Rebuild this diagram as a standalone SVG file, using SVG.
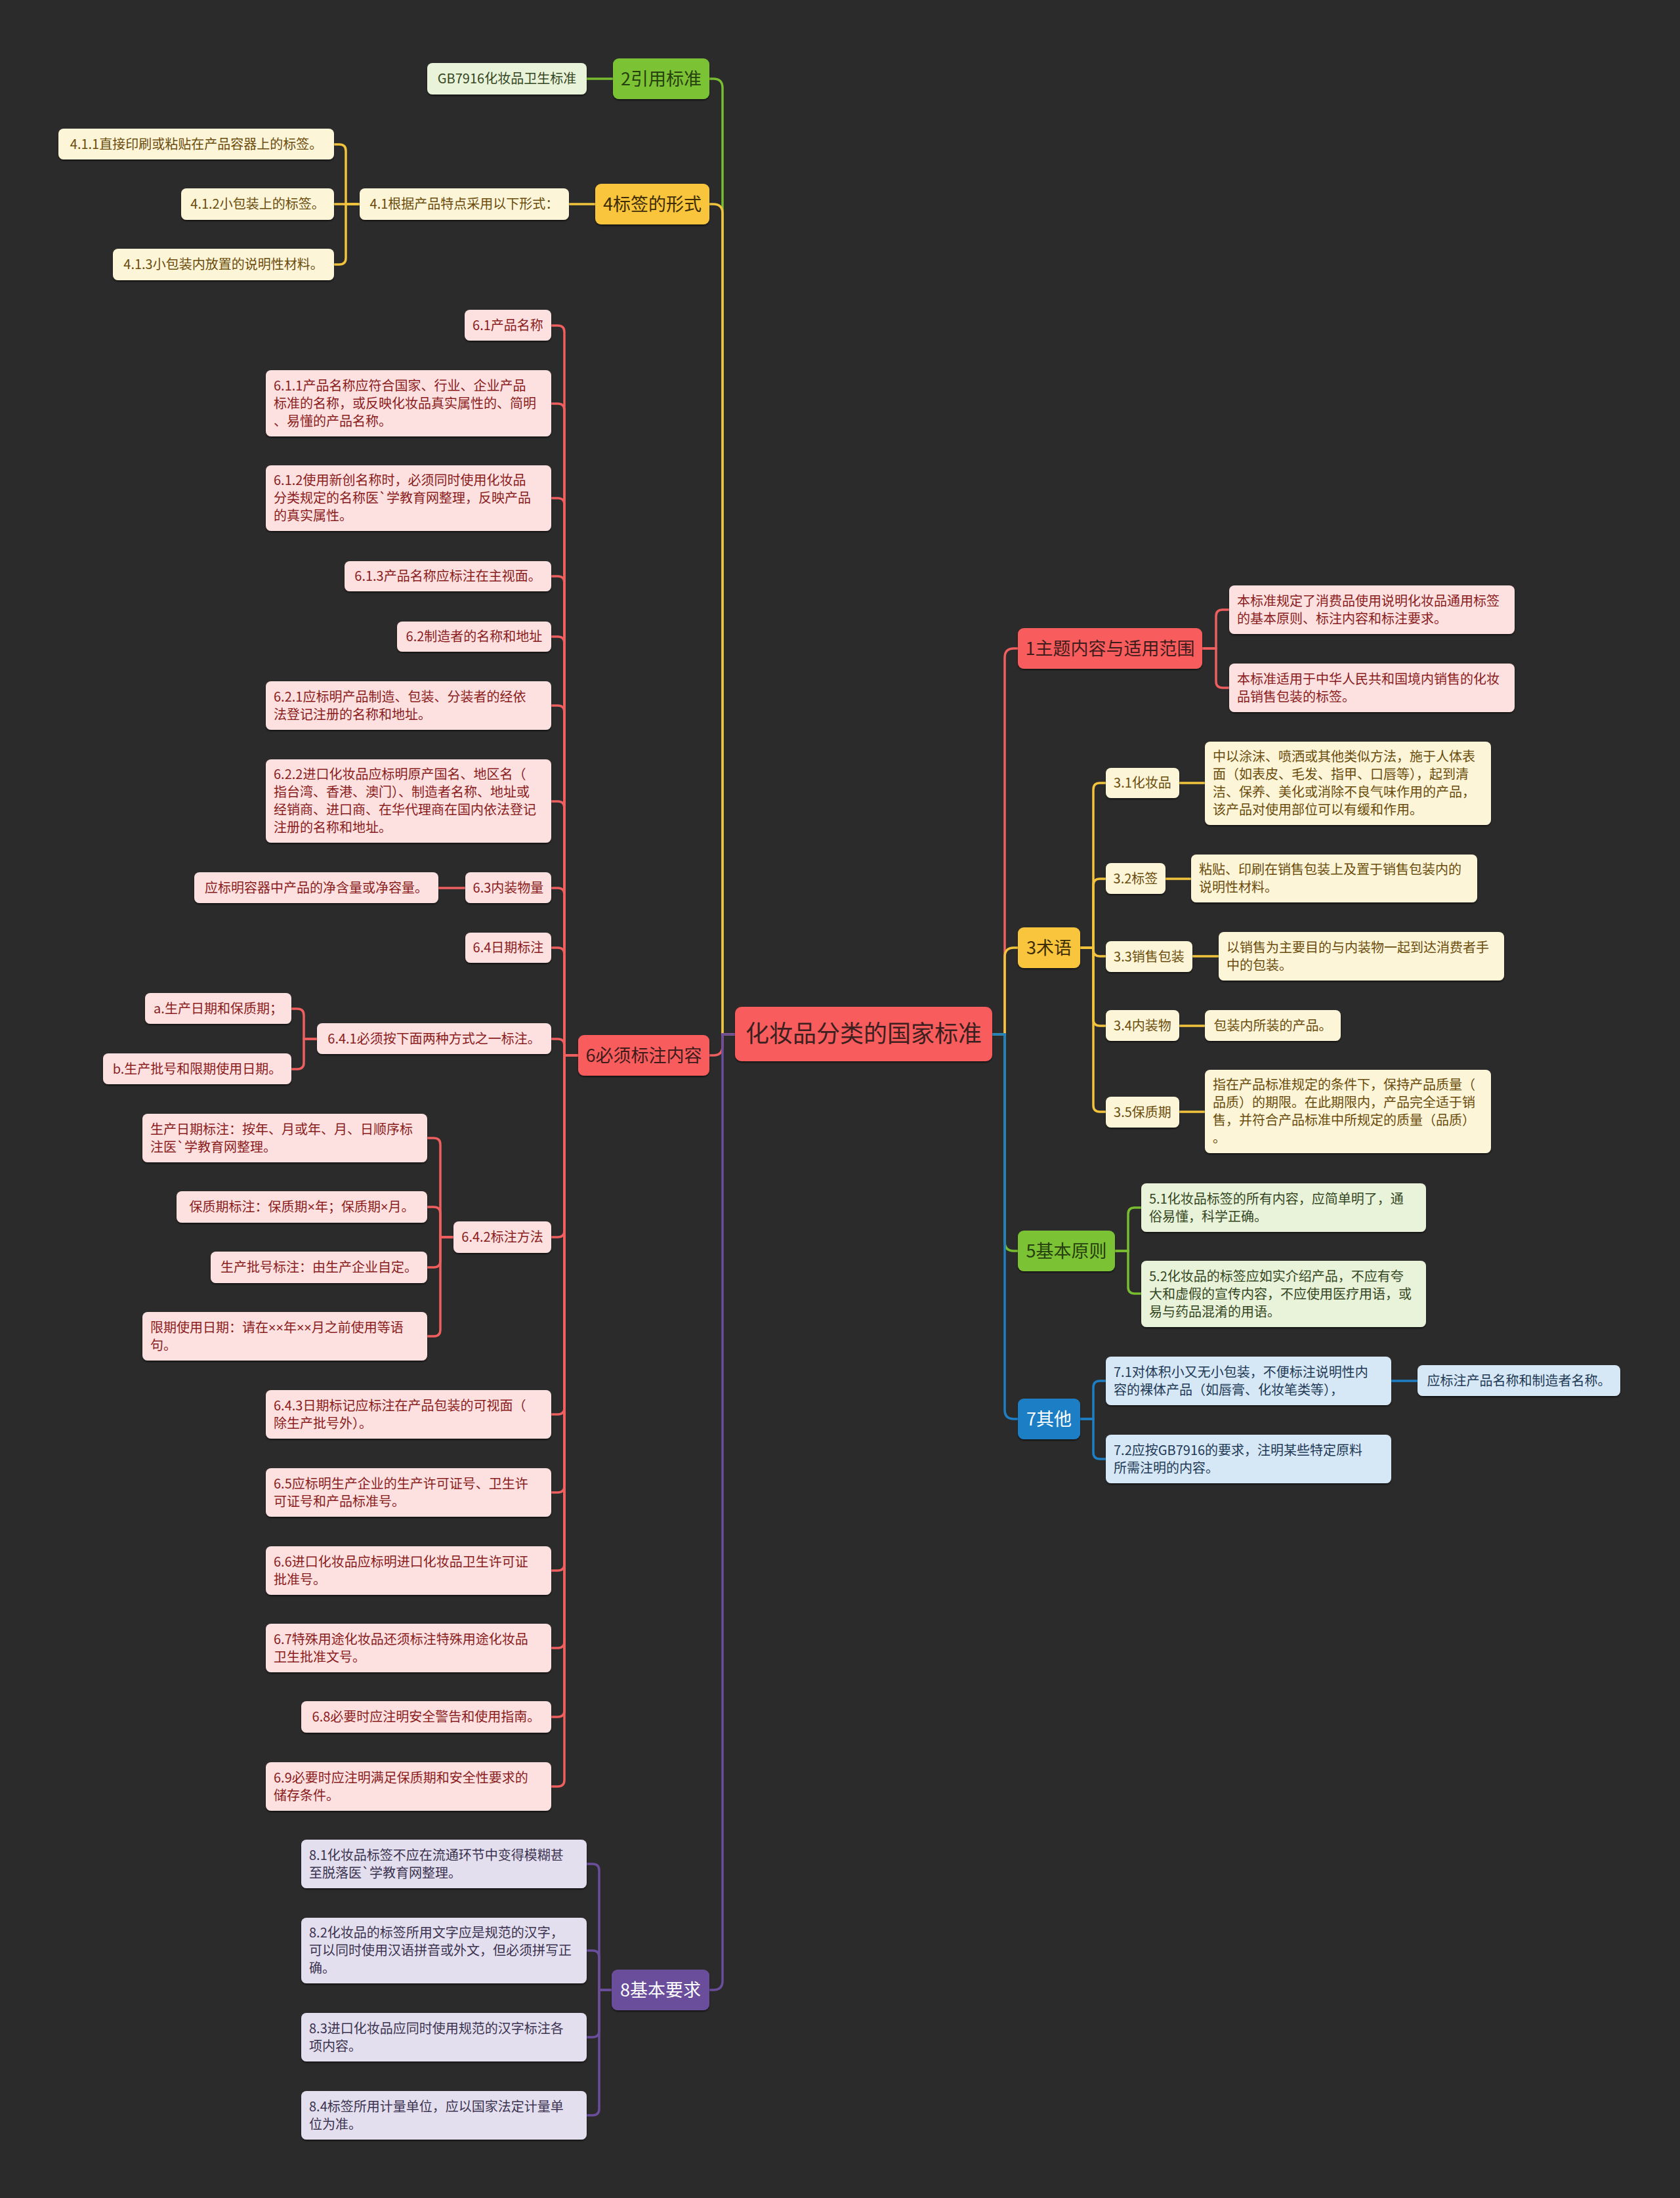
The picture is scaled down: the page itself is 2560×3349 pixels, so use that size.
<svg xmlns="http://www.w3.org/2000/svg" width="2560" height="3349" viewBox="0 0 2560 3349">
<style>
text{font-family:"Noto Sans CJK SC","Noto Sans",sans-serif;font-size:20px}
.x{font-family:"Noto Sans","Liberation Sans",sans-serif}
.c{text-anchor:middle}
.l1{font-size:27px}
.root{font-size:36px;fill:#3c2020}
rect{filter:url(#sh)}
.Rm{fill:#f85b5b}.Rs{fill:#fde1e1}.Rt{fill:#8a1c1c}.Rd{fill:#3e1c1c}
.Ym{fill:#f8c53c}.Ys{fill:#fdf5d8}.Yt{fill:#6a4c0c}.Yd{fill:#3e2d06}
.Gm{fill:#7cc235}.Gs{fill:#e9f3da}.Gt{fill:#34461f}.Gd{fill:#26400e}
.Bm{fill:#1e7fc5}.Bs{fill:#d6e7f5}.Bt{fill:#1f3a55}.Bd{fill:#ffffff}
.Pm{fill:#6a4d9b}.Ps{fill:#e3dfee}.Pt{fill:#3b3350}.Pd{fill:#ffffff}
#connectors path{fill:none;stroke-width:3.5;stroke-linecap:round}
.lr{stroke:#ef5f5f}.ly{stroke:#f2c33c}.lg{stroke:#78bd30}.lb{stroke:#1e7fc5}.lp{stroke:#6a4d9b}
</style>
<defs>
<filter id="sh" x="-5%" y="-10%" width="110%" height="130%"><feDropShadow dx="0" dy="2" stdDeviation="1" flood-color="#000" flood-opacity="0.55"/></filter>
</defs>
<rect x="0" y="0" width="2560" height="3349" fill="#2b2b2b" style="filter:none"/>
<g id="connectors">
<path class="lg" d="M1120,1576 H1101 V134 Q1101,120 1087,120 H1081"/>
<path class="ly" d="M1120,1576 H1101 V325 Q1101,311 1087,311 H1081"/>
<path class="lr" d="M1120,1576 H1101 V1594 Q1101,1608 1087,1608 H1081"/>
<path class="lp" d="M1120,1576 H1101 V3018 Q1101,3032 1087,3032 H1081"/>
<path class="lr" d="M1512,1576 H1531 V1002 Q1531,988 1545,988 H1551"/>
<path class="ly" d="M1512,1576 H1531 V1458 Q1531,1444 1545,1444 H1551"/>
<path class="lg" d="M1512,1576 H1531 V1892 Q1531,1906 1545,1906 H1551"/>
<path class="lb" d="M1512,1576 H1531 V2148 Q1531,2162 1545,2162 H1551"/>
<path class="lg" d="M934,120 H894"/>
<path class="ly" d="M907,311 H867"/>
<path class="ly" d="M548,311 H527 V230 Q527,220 517,220 H509"/>
<path class="ly" d="M548,311 H509"/>
<path class="ly" d="M548,311 H527 V393 Q527,403 517,403 H509"/>
<path class="lr" d="M881,1608 H860 V506 Q860,496 850,496 H840"/>
<path class="lr" d="M881,1608 H860 V625 Q860,615 850,615 H840"/>
<path class="lr" d="M881,1608 H860 V769 Q860,759 850,759 H840"/>
<path class="lr" d="M881,1608 H860 V888 Q860,878 850,878 H840"/>
<path class="lr" d="M881,1608 H860 V980 Q860,970 850,970 H840"/>
<path class="lr" d="M881,1608 H860 V1085 Q860,1075 850,1075 H840"/>
<path class="lr" d="M881,1608 H860 V1231 Q860,1221 850,1221 H840"/>
<path class="lr" d="M881,1608 H860 V1363 Q860,1353 850,1353 H840"/>
<path class="lr" d="M881,1608 H860 V1454 Q860,1444 850,1444 H840"/>
<path class="lr" d="M881,1608 H860 V1593 Q860,1583 850,1583 H840"/>
<path class="lr" d="M881,1608 H860 V1875 Q860,1885 850,1885 H840"/>
<path class="lr" d="M881,1608 H860 V2145 Q860,2155 850,2155 H840"/>
<path class="lr" d="M881,1608 H860 V2264 Q860,2274 850,2274 H840"/>
<path class="lr" d="M881,1608 H860 V2383 Q860,2393 850,2393 H840"/>
<path class="lr" d="M881,1608 H860 V2501 Q860,2511 850,2511 H840"/>
<path class="lr" d="M881,1608 H860 V2606 Q860,2616 850,2616 H840"/>
<path class="lr" d="M881,1608 H860 V2712 Q860,2722 850,2722 H840"/>
<path class="lr" d="M709,1353 H668"/>
<path class="lr" d="M483,1583 H463 V1547 Q463,1537 453,1537 H444"/>
<path class="lr" d="M483,1583 H463 V1619 Q463,1629 453,1629 H444"/>
<path class="lr" d="M691,1885 H671 V1744 Q671,1734 661,1734 H651"/>
<path class="lr" d="M691,1885 H671 V1849 Q671,1839 661,1839 H651"/>
<path class="lr" d="M691,1885 H671 V1921 Q671,1931 661,1931 H651"/>
<path class="lr" d="M691,1885 H671 V2026 Q671,2036 661,2036 H651"/>
<path class="lp" d="M932,3032 H913 V2850 Q913,2840 903,2840 H894"/>
<path class="lp" d="M932,3032 H913 V2982 Q913,2972 903,2972 H894"/>
<path class="lp" d="M932,3032 H913 V3094 Q913,3104 903,3104 H894"/>
<path class="lp" d="M932,3032 H913 V3213 Q913,3223 903,3223 H894"/>
<path class="lr" d="M1832,988 H1853 V939 Q1853,929 1863,929 H1873"/>
<path class="lr" d="M1832,988 H1853 V1038 Q1853,1048 1863,1048 H1873"/>
<path class="ly" d="M1646,1444 H1666 V1203 Q1666,1193 1676,1193 H1685"/>
<path class="ly" d="M1646,1444 H1666 V1349 Q1666,1339 1676,1339 H1685"/>
<path class="ly" d="M1646,1444 H1666 V1447 Q1666,1457 1676,1457 H1685"/>
<path class="ly" d="M1646,1444 H1666 V1553 Q1666,1563 1676,1563 H1685"/>
<path class="ly" d="M1646,1444 H1666 V1684 Q1666,1694 1676,1694 H1685"/>
<path class="ly" d="M1797,1193 H1836"/>
<path class="ly" d="M1776,1339 H1815"/>
<path class="ly" d="M1817,1457 H1857"/>
<path class="ly" d="M1797,1563 H1836"/>
<path class="ly" d="M1797,1694 H1836"/>
<path class="lg" d="M1699,1906 H1719 V1850 Q1719,1840 1729,1840 H1739"/>
<path class="lg" d="M1699,1906 H1719 V1961 Q1719,1971 1729,1971 H1739"/>
<path class="lb" d="M1646,2162 H1666 V2114 Q1666,2104 1676,2104 H1685"/>
<path class="lb" d="M1646,2162 H1666 V2213 Q1666,2223 1676,2223 H1685"/>
<path class="lb" d="M2120,2104 H2160"/>
</g>

<g id="root"><rect class="Rm" x="1120" y="1534" width="392" height="83" rx="10"/><text class="root c" x="1316" y="1588">化妆品分类的国家标准</text></g>

<g id="n2"><rect class="Gm" x="934" y="89" width="147" height="62" rx="9"/><text class="l1 c Gd" x="1007.5" y="129.5">2引用标准</text></g>
<g id="n2-1"><rect class="Gs" x="651" y="96" width="243" height="48" rx="8"/><text class="c Gt" x="772.5" y="127">GB7916化妆品卫生标准</text></g>

<g id="n4"><rect class="Ym" x="907" y="280" width="174" height="62" rx="9"/><text class="l1 c Yd" x="994" y="320.5">4标签的形式</text></g>
<g id="n4-1"><rect class="Ys" x="548" y="287" width="319" height="48" rx="8"/><text class="c Yt" x="707.5" y="318">4.1根据产品特点采用以下形式：</text></g>
<g id="n4-1-1"><rect class="Ys" x="89" y="196" width="420" height="47" rx="8"/><text class="c Yt" x="299" y="226.5">4.1.1直接印刷或粘贴在产品容器上的标签。</text></g>
<g id="n4-1-2"><rect class="Ys" x="276" y="287" width="233" height="48" rx="8"/><text class="c Yt" x="392.5" y="318">4.1.2小包装上的标签。</text></g>
<g id="n4-1-3"><rect class="Ys" x="172" y="379" width="337" height="48" rx="8"/><text class="c Yt" x="340.5" y="410">4.1.3小包装内放置的说明性材料。</text></g>

<g id="n6"><rect class="Rm" x="881" y="1577" width="200" height="62" rx="9"/><text class="l1 c Rd" x="981" y="1617.5">6必须标注内容</text></g>
<g id="n6-1"><rect class="Rs" x="708" y="472" width="132" height="47" rx="8"/><text class="c Rt" x="774" y="502.5">6.1产品名称</text></g>
<g id="n6-1-1"><rect class="Rs" x="405" y="564" width="435" height="101" rx="8"/><text class="Rt" x="417"><tspan x="417" y="594.5">6.1.1产品名称应符合国家、行业、企业产品</tspan><tspan x="417" y="621.5">标准的名称，或反映化妆品真实属性的、简明</tspan><tspan x="417" y="648.5">、易懂的产品名称。</tspan></text></g>
<g id="n6-1-2"><rect class="Rs" x="405" y="709" width="435" height="100" rx="8"/><text class="Rt" x="417"><tspan x="417" y="739">6.1.2使用新创名称时，必须同时使用化妆品</tspan><tspan x="417" y="766">分类规定的名称医`学教育网整理，反映产品</tspan><tspan x="417" y="793">的真实属性。</tspan></text></g>
<g id="n6-1-3"><rect class="Rs" x="525" y="855" width="315" height="46" rx="8"/><text class="c Rt" x="682.5" y="885">6.1.3产品名称应标注在主视面。</text></g>
<g id="n6-2"><rect class="Rs" x="605" y="947" width="235" height="46" rx="8"/><text class="c Rt" x="722.5" y="977">6.2制造者的名称和地址</text></g>
<g id="n6-2-1"><rect class="Rs" x="405" y="1038" width="435" height="74" rx="8"/><text class="Rt" x="417"><tspan x="417" y="1068.5">6.2.1应标明产品制造、包装、分装者的经依</tspan><tspan x="417" y="1095.5">法登记注册的名称和地址。</tspan></text></g>
<g id="n6-2-2"><rect class="Rs" x="405" y="1157" width="435" height="127" rx="8"/><text class="Rt" x="417"><tspan x="417" y="1187">6.2.2进口化妆品应标明原产国名、地区名（</tspan><tspan x="417" y="1214">指台湾、香港、澳门）、制造者名称、地址或</tspan><tspan x="417" y="1241">经销商、进口商、在华代理商在国内依法登记</tspan><tspan x="417" y="1268">注册的名称和地址。</tspan></text></g>
<g id="n6-3"><rect class="Rs" x="709" y="1329" width="131" height="47" rx="8"/><text class="c Rt" x="774.5" y="1359.5">6.3内装物量</text></g>
<g id="n6-3-1"><rect class="Rs" x="296" y="1329" width="372" height="47" rx="8"/><text class="c Rt" x="482" y="1359.5">应标明容器中产品的净含量或净容量。</text></g>
<g id="n6-4"><rect class="Rs" x="709" y="1421" width="131" height="46" rx="8"/><text class="c Rt" x="774.5" y="1451">6.4日期标注</text></g>
<g id="n6-4-1"><rect class="Rs" x="483" y="1559" width="357" height="47" rx="8"/><text class="c Rt" x="661.5" y="1589.5">6.4.1必须按下面两种方式之一标注。</text></g>
<g id="n6-4-1a"><rect class="Rs" x="221" y="1513" width="223" height="47" rx="8"/><text class="c Rt" x="332.5" y="1543.5">a.生产日期和保质期；</text></g>
<g id="n6-4-1b"><rect class="Rs" x="157" y="1605" width="287" height="47" rx="8"/><text class="c Rt" x="300.5" y="1635.5">b.生产批号和限期使用日期。</text></g>
<g id="n6-4-2"><rect class="Rs" x="691" y="1861" width="149" height="48" rx="8"/><text class="c Rt" x="765.5" y="1892">6.4.2标注方法</text></g>
<g id="n6-4-2a"><rect class="Rs" x="217" y="1697" width="434" height="74" rx="8"/><text class="Rt" x="229"><tspan x="229" y="1727.5">生产日期标注：按年、月或年、月、日顺序标</tspan><tspan x="229" y="1754.5">注医`学教育网整理。</tspan></text></g>
<g id="n6-4-2b"><rect class="Rs" x="269" y="1815" width="382" height="48" rx="8"/><text class="c Rt" x="460" y="1846">保质期标注：保质期<tspan class="x">×</tspan>年；保质期<tspan class="x">×</tspan>月。</text></g>
<g id="n6-4-2c"><rect class="Rs" x="321" y="1907" width="330" height="48" rx="8"/><text class="c Rt" x="486" y="1938">生产批号标注：由生产企业自定。</text></g>
<g id="n6-4-2d"><rect class="Rs" x="217" y="1999" width="434" height="74" rx="8"/><text class="Rt" x="229"><tspan x="229" y="2029.5">限期使用日期：请在<tspan class="x">××</tspan>年<tspan class="x">××</tspan>月之前使用等语</tspan><tspan x="229" y="2056.5">句。</tspan></text></g>
<g id="n6-4-3"><rect class="Rs" x="405" y="2118" width="435" height="74" rx="8"/><text class="Rt" x="417"><tspan x="417" y="2148.5">6.4.3日期标记应标注在产品包装的可视面（</tspan><tspan x="417" y="2175.5">除生产批号外）。</tspan></text></g>
<g id="n6-5"><rect class="Rs" x="405" y="2237" width="435" height="74" rx="8"/><text class="Rt" x="417"><tspan x="417" y="2267.5">6.5应标明生产企业的生产许可证号、卫生许</tspan><tspan x="417" y="2294.5">可证号和产品标准号。</tspan></text></g>
<g id="n6-6"><rect class="Rs" x="405" y="2356" width="435" height="74" rx="8"/><text class="Rt" x="417"><tspan x="417" y="2386.5">6.6进口化妆品应标明进口化妆品卫生许可证</tspan><tspan x="417" y="2413.5">批准号。</tspan></text></g>
<g id="n6-7"><rect class="Rs" x="405" y="2474" width="435" height="74" rx="8"/><text class="Rt" x="417"><tspan x="417" y="2504.5">6.7特殊用途化妆品还须标注特殊用途化妆品</tspan><tspan x="417" y="2531.5">卫生批准文号。</tspan></text></g>
<g id="n6-8"><rect class="Rs" x="459" y="2592" width="381" height="48" rx="8"/><text class="c Rt" x="649.5" y="2623">6.8必要时应注明安全警告和使用指南。</text></g>
<g id="n6-9"><rect class="Rs" x="405" y="2685" width="435" height="74" rx="8"/><text class="Rt" x="417"><tspan x="417" y="2715.5">6.9必要时应注明满足保质期和安全性要求的</tspan><tspan x="417" y="2742.5">储存条件。</tspan></text></g>

<g id="n8"><rect class="Pm" x="932" y="3001" width="149" height="62" rx="9"/><text class="l1 c Pd" x="1006.5" y="3041.5">8基本要求</text></g>
<g id="n8-1"><rect class="Ps" x="459" y="2803" width="435" height="74" rx="8"/><text class="Pt" x="471"><tspan x="471" y="2833.5">8.1化妆品标签不应在流通环节中变得模糊甚</tspan><tspan x="471" y="2860.5">至脱落医`学教育网整理。</tspan></text></g>
<g id="n8-2"><rect class="Ps" x="459" y="2922" width="435" height="100" rx="8"/><text class="Pt" x="471"><tspan x="471" y="2952">8.2化妆品的标签所用文字应是规范的汉字，</tspan><tspan x="471" y="2979">可以同时使用汉语拼音或外文，但必须拼写正</tspan><tspan x="471" y="3006">确。</tspan></text></g>
<g id="n8-3"><rect class="Ps" x="459" y="3067" width="435" height="74" rx="8"/><text class="Pt" x="471"><tspan x="471" y="3097.5">8.3进口化妆品应同时使用规范的汉字标注各</tspan><tspan x="471" y="3124.5">项内容。</tspan></text></g>
<g id="n8-4"><rect class="Ps" x="459" y="3186" width="435" height="74" rx="8"/><text class="Pt" x="471"><tspan x="471" y="3216.5">8.4标签所用计量单位，应以国家法定计量单</tspan><tspan x="471" y="3243.5">位为准。</tspan></text></g>

<g id="n1"><rect class="Rm" x="1551" y="957" width="281" height="62" rx="9"/><text class="l1 c Rd" x="1691.5" y="997.5">1主题内容与适用范围</text></g>
<g id="n1-1"><rect class="Rs" x="1873" y="892" width="435" height="74" rx="8"/><text class="Rt" x="1885"><tspan x="1885" y="922.5">本标准规定了消费品使用说明化妆品通用标签</tspan><tspan x="1885" y="949.5">的基本原则、标注内容和标注要求。</tspan></text></g>
<g id="n1-2"><rect class="Rs" x="1873" y="1011" width="435" height="74" rx="8"/><text class="Rt" x="1885"><tspan x="1885" y="1041.5">本标准适用于中华人民共和国境内销售的化妆</tspan><tspan x="1885" y="1068.5">品销售包装的标签。</tspan></text></g>

<g id="n3"><rect class="Ym" x="1551" y="1413" width="95" height="62" rx="9"/><text class="l1 c Yd" x="1598.5" y="1453.5">3术语</text></g>
<g id="n3-1"><rect class="Ys" x="1685" y="1170" width="112" height="46" rx="8"/><text class="c Yt" x="1741" y="1200">3.1化妆品</text></g>
<g id="n3-1-1"><rect class="Ys" x="1836" y="1130" width="436" height="127" rx="8"/><text class="Yt" x="1848"><tspan x="1848" y="1160">中以涂沫、喷洒或其他类似方法，施于人体表</tspan><tspan x="1848" y="1187">面（如表皮、毛发、指甲、口唇等），起到清</tspan><tspan x="1848" y="1214">洁、保养、美化或消除不良气味作用的产品，</tspan><tspan x="1848" y="1241">该产品对使用部位可以有缓和作用。</tspan></text></g>
<g id="n3-2"><rect class="Ys" x="1685" y="1315" width="91" height="47" rx="8"/><text class="c Yt" x="1730.5" y="1345.5">3.2标签</text></g>
<g id="n3-2-1"><rect class="Ys" x="1815" y="1302" width="436" height="73" rx="8"/><text class="Yt" x="1827"><tspan x="1827" y="1332">粘贴、印刷在销售包装上及置于销售包装内的</tspan><tspan x="1827" y="1359">说明性材料。</tspan></text></g>
<g id="n3-3"><rect class="Ys" x="1685" y="1434" width="132" height="47" rx="8"/><text class="c Yt" x="1751" y="1464.5">3.3销售包装</text></g>
<g id="n3-3-1"><rect class="Ys" x="1857" y="1420" width="435" height="74" rx="8"/><text class="Yt" x="1869"><tspan x="1869" y="1450.5">以销售为主要目的与内装物一起到达消费者手</tspan><tspan x="1869" y="1477.5">中的包装。</tspan></text></g>
<g id="n3-4"><rect class="Ys" x="1685" y="1539" width="112" height="47" rx="8"/><text class="c Yt" x="1741" y="1569.5">3.4内装物</text></g>
<g id="n3-4-1"><rect class="Ys" x="1836" y="1539" width="207" height="47" rx="8"/><text class="c Yt" x="1939.5" y="1569.5">包装内所装的产品。</text></g>
<g id="n3-5"><rect class="Ys" x="1685" y="1671" width="112" height="47" rx="8"/><text class="c Yt" x="1741" y="1701.5">3.5保质期</text></g>
<g id="n3-5-1"><rect class="Ys" x="1836" y="1630" width="436" height="127" rx="8"/><text class="Yt" x="1848"><tspan x="1848" y="1660">指在产品标准规定的条件下，保持产品质量（</tspan><tspan x="1848" y="1687">品质）的期限。在此期限内，产品完全适于销</tspan><tspan x="1848" y="1714">售，并符合产品标准中所规定的质量（品质）</tspan><tspan x="1848" y="1741">。</tspan></text></g>

<g id="n5"><rect class="Gm" x="1551" y="1875" width="148" height="62" rx="9"/><text class="l1 c Gd" x="1625" y="1915.5">5基本原则</text></g>
<g id="n5-1"><rect class="Gs" x="1739" y="1803" width="434" height="74" rx="8"/><text class="Gt" x="1751"><tspan x="1751" y="1833.5">5.1化妆品标签的所有内容，应简单明了，通</tspan><tspan x="1751" y="1860.5">俗易懂，科学正确。</tspan></text></g>
<g id="n5-2"><rect class="Gs" x="1739" y="1921" width="434" height="101" rx="8"/><text class="Gt" x="1751"><tspan x="1751" y="1951.5">5.2化妆品的标签应如实介绍产品，不应有夸</tspan><tspan x="1751" y="1978.5">大和虚假的宣传内容，不应使用医疗用语，或</tspan><tspan x="1751" y="2005.5">易与药品混淆的用语。</tspan></text></g>

<g id="n7"><rect class="Bm" x="1551" y="2131" width="95" height="62" rx="9"/><text class="l1 c Bd" x="1598.5" y="2171.5">7其他</text></g>
<g id="n7-1"><rect class="Bs" x="1685" y="2067" width="435" height="74" rx="8"/><text class="Bt" x="1697"><tspan x="1697" y="2097.5">7.1对体积小又无小包装，不便标注说明性内</tspan><tspan x="1697" y="2124.5">容的裸体产品（如唇膏、化妆笔类等），</tspan></text></g>
<g id="n7-1-1"><rect class="Bs" x="2160" y="2080" width="309" height="47" rx="8"/><text class="c Bt" x="2314.5" y="2110.5">应标注产品名称和制造者名称。</text></g>
<g id="n7-2"><rect class="Bs" x="1685" y="2186" width="435" height="74" rx="8"/><text class="Bt" x="1697"><tspan x="1697" y="2216.5">7.2应按GB7916的要求，注明某些特定原料</tspan><tspan x="1697" y="2243.5">所需注明的内容。</tspan></text></g>
</svg>
